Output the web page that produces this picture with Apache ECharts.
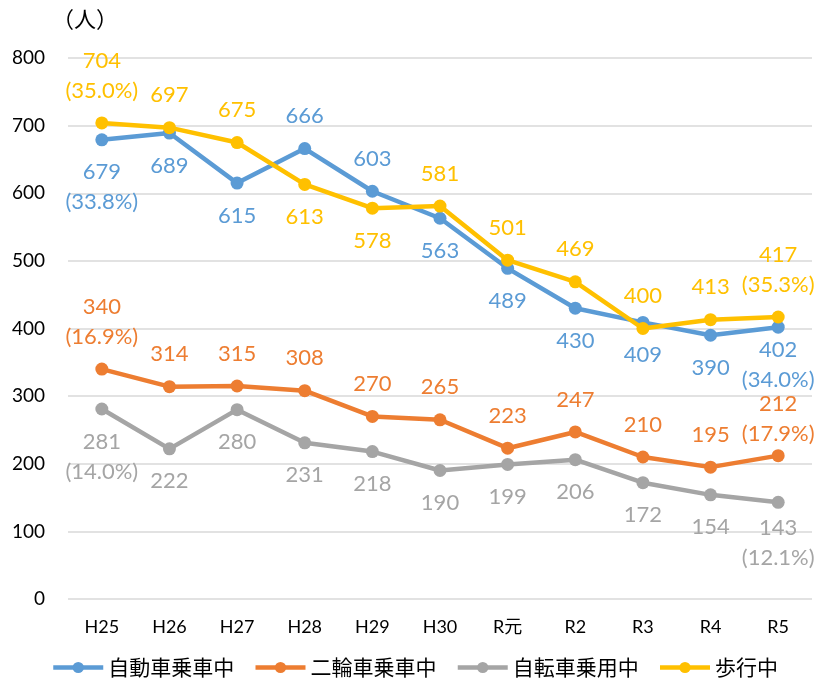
<!DOCTYPE html>
<html><head><meta charset="utf-8">
<script src="https://cdn.jsdelivr.net/npm/echarts@6/dist/echarts.min.js"></script>
<style>html,body{margin:0;padding:0;background:#fff}#c{width:829px;height:689px}</style>
</head><body><div id="c"></div>
<script>
const categories = ['H25','H26','H27','H28','H29','H30','R元','R2','R3','R4','R5'];
const seriesNames = ['自動車乗車中','二輪車乗車中','自転車乗用中','歩行中'];
const autoValues  = [679,689,615,666,603,563,489,430,409,390,402];
const motoValues  = [340,314,315,308,270,265,223,247,210,195,212];
const bikeValues  = [281,222,280,231,218,190,199,206,172,154,143];
const walkValues  = [704,697,675,613,578,581,501,469,400,413,417];
const autoShare = ['(33.8%)','(34.0%)'];
const motoShare = ['(16.9%)','(17.9%)'];
const bikeShare = ['(14.0%)','(12.1%)'];
const walkShare = ['(35.0%)','(35.3%)'];
const yTicks = {min:0, max:800, interval:100};

// label placement (style, not data)
const autoPos = ['bottom','bottom','bottom','top','top','bottom','bottom','bottom','bottom','bottom','bottom'];
const motoPos = ['top','top','top','top','top','top','top','top','top','top','top'];
const bikePos = ['bottom','bottom','bottom','bottom','bottom','bottom','bottom','bottom','bottom','bottom','bottom'];
const walkPos = ['top','top','top','bottom','bottom','top','top','top','top','top','top'];
const autoDist = [11,11,11,11,11,11,11,11,11,11,1.5];
const motoDist = [11,11,11,11,11,11,11,11,11,11,0];
const bikeDist = [11,11,11,11,11,11,11,11,11,11,4.5];
const walkDist = [11,11,11,11,11,11,11,11,11,11,11];

const colors = ['#5B9BD5','#ED7D31','#A5A5A5','#FFC000'];
const FONT = 'Lato, "Noto Sans CJK JP", sans-serif';
const JP = '"Noto Sans CJK JP", sans-serif';

function build(name, values, share, pos, dist, color, z) {
  const n = values.length;
  return {
    name, type: 'line', z,
    symbol: 'circle', symbolSize: 13,
    lineStyle: {width: 4.5, color},
    itemStyle: {color},
    data: values.map((v, i) => {
      let txt = String(v);
      if (i === 0) txt += '\n' + share[0];
      if (i === n - 1) txt += '\n' + share[1];
      return {
        value: v,
        label: {show: true, position: pos[i], distance: dist[i], formatter: txt,
          color, fontSize: 22, lineHeight: 30, fontFamily: FONT}
      };
    })
  };
}

const chart = echarts.init(document.getElementById('c'));
chart.setOption({
  animation: false,
  color: colors,
  grid: {left: 68, right: 17, top: 58, bottom: 90},
  legend: {
    bottom: 6, left: 'center',
    itemWidth: 50, itemHeight: 14, itemGap: 19,
    lineStyle: {width: 4.5},
    textStyle: {fontSize: 21, color: '#000', fontFamily: JP},
    data: seriesNames
  },
  xAxis: {
    type: 'category', data: categories, boundaryGap: true,
    axisLine: {show: false}, axisTick: {show: false},
    axisLabel: {color: '#000', fontSize: 18, margin: 19, fontFamily: FONT}
  },
  yAxis: {
    type: 'value', min: yTicks.min, max: yTicks.max, interval: yTicks.interval,
    axisLine: {show: false}, axisTick: {show: false},
    axisLabel: {color: '#000', fontSize: 19, margin: 23, fontFamily: FONT},
    splitLine: {lineStyle: {color: '#d9d9d9', width: 1.5}}
  },
  graphic: [{
    type: 'text', left: 52, top: 8,
    style: {text: '（人）', fontSize: 22, fill: '#000', fontFamily: JP}
  }],
  series: [
    build(seriesNames[0], autoValues, autoShare, autoPos, autoDist, colors[0], 2),
    build(seriesNames[1], motoValues, motoShare, motoPos, motoDist, colors[1], 2),
    build(seriesNames[2], bikeValues, bikeShare, bikePos, bikeDist, colors[2], 2),
    build(seriesNames[3], walkValues, walkShare, walkPos, walkDist, colors[3], 3)
  ]
});
</script></body></html>
